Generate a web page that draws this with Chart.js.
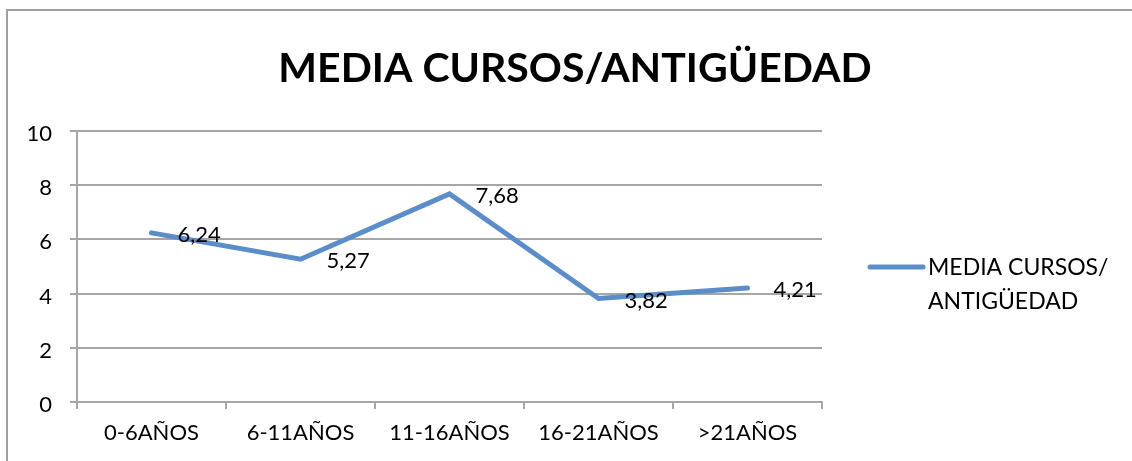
<!DOCTYPE html>
<html>
<head>
<meta charset="utf-8">
<script src="https://cdn.jsdelivr.net/npm/chart.js@4/dist/chart.umd.min.js"></script>
<style>
  html, body { margin: 0; padding: 0; background: #fff; }
  #wrap { width: 1132px; height: 461px; position: relative; }
</style>
</head>
<body>
<div id="wrap"><canvas id="cursosChart" width="1132" height="461"></canvas></div>
<script>
// Chart data
const chartTitle = 'MEDIA CURSOS/ANTIGÜEDAD';
const categories = ['0-6AÑOS', '6-11AÑOS', '11-16AÑOS', '16-21AÑOS', '>21AÑOS'];
const mediaCursos = [6.24, 5.27, 7.68, 3.82, 4.21];
const legendLines = ['MEDIA CURSOS/', 'ANTIGÜEDAD'];
const yTicks = [0, 2, 4, 6, 8, 10];

const lineColor = '#5b8ec8';
const gridColor = '#a6a6a6';
const fontFamily = 'Lato, "Open Sans", sans-serif';

// frame, title, value labels and legend drawn by hand
const decorations = {
    id: 'decorations',
    beforeDraw(chart) {
        const c = chart.ctx;
        c.save();
        c.strokeStyle = '#a0a0a0';
        c.lineWidth = 2;
        c.beginPath();
        c.moveTo(7, 470);
        c.lineTo(7, 10);
        c.lineTo(1140, 10);
        c.stroke();
        c.restore();
    },
    afterDraw(chart) {
        const c = chart.ctx;
        const area = chart.chartArea;
        c.save();
        // title
        c.fillStyle = '#000';
        c.font = 'bold 41px ' + fontFamily;
        c.textAlign = 'center';
        c.textBaseline = 'middle';
        c.fillText(chartTitle, 575, 69);

        // value labels, right of each point
        c.font = '22px ' + fontFamily;
        c.textAlign = 'left';
        const meta = chart.getDatasetMeta(0);
        meta.data.forEach((pt, i) => {
            const txt = mediaCursos[i].toFixed(2).replace('.', ',');
            c.fillText(txt, pt.x + 26, pt.y + 2);
        });

        // legend
        const ly = 267;
        c.strokeStyle = lineColor;
        c.lineWidth = 5;
        c.lineCap = 'round';
        c.beginPath();
        c.moveTo(area.right + 48, ly);
        c.lineTo(area.right + 101, ly);
        c.stroke();
        c.font = '23px ' + fontFamily;
        legendLines.forEach((t, i) => {
            c.fillText(t, area.right + 106, ly + 1 + i * 34);
        });
        c.restore();
    }
};

const ctx = document.getElementById('cursosChart').getContext('2d');
const cursosChart = new Chart(ctx, {
    type: 'line',
    data: {
        labels: categories,
        datasets: [{
            label: legendLines.join(' '),
            data: mediaCursos,
            borderColor: lineColor,
            borderWidth: 5,
            borderCapStyle: 'round',
            pointRadius: 0,
            tension: 0,
            fill: false,
        }]
    },
    options: {
        responsive: false,
        animation: false,
        events: [],
        layout: {
            padding: { top: 131, right: 310, bottom: 0, left: 0 }
        },
        scales: {
            x: {
                offset: true,
                afterFit: (scale) => { scale.height = 59; },
                grid: {
                    offset: true,
                    drawOnChartArea: false,
                    color: gridColor,
                    lineWidth: 2,
                    tickLength: 7,
                },
                border: { color: gridColor, width: 2 },
                ticks: {
                    color: '#000',
                    padding: 11,
                    maxRotation: 0,
                    font: { family: fontFamily, size: 22 },
                },
            },
            y: {
                min: 0,
                max: 10,
                afterFit: (scale) => { scale.width = 77; },
                afterBuildTicks: (scale) => { scale.ticks = yTicks.map(v => ({ value: v })); },
                grid: {
                    color: gridColor,
                    lineWidth: 2,
                    tickLength: 7,
                },
                border: { color: gridColor, width: 2 },
                ticks: {
                    color: '#000',
                    padding: 18,
                    labelOffset: 3,
                    font: { family: fontFamily, size: 22 },
                },
            },
        },
        plugins: {
            legend: { display: false },
            tooltip: { enabled: false },
        },
    },
    plugins: [decorations],
});
</script>
</body>
</html>
